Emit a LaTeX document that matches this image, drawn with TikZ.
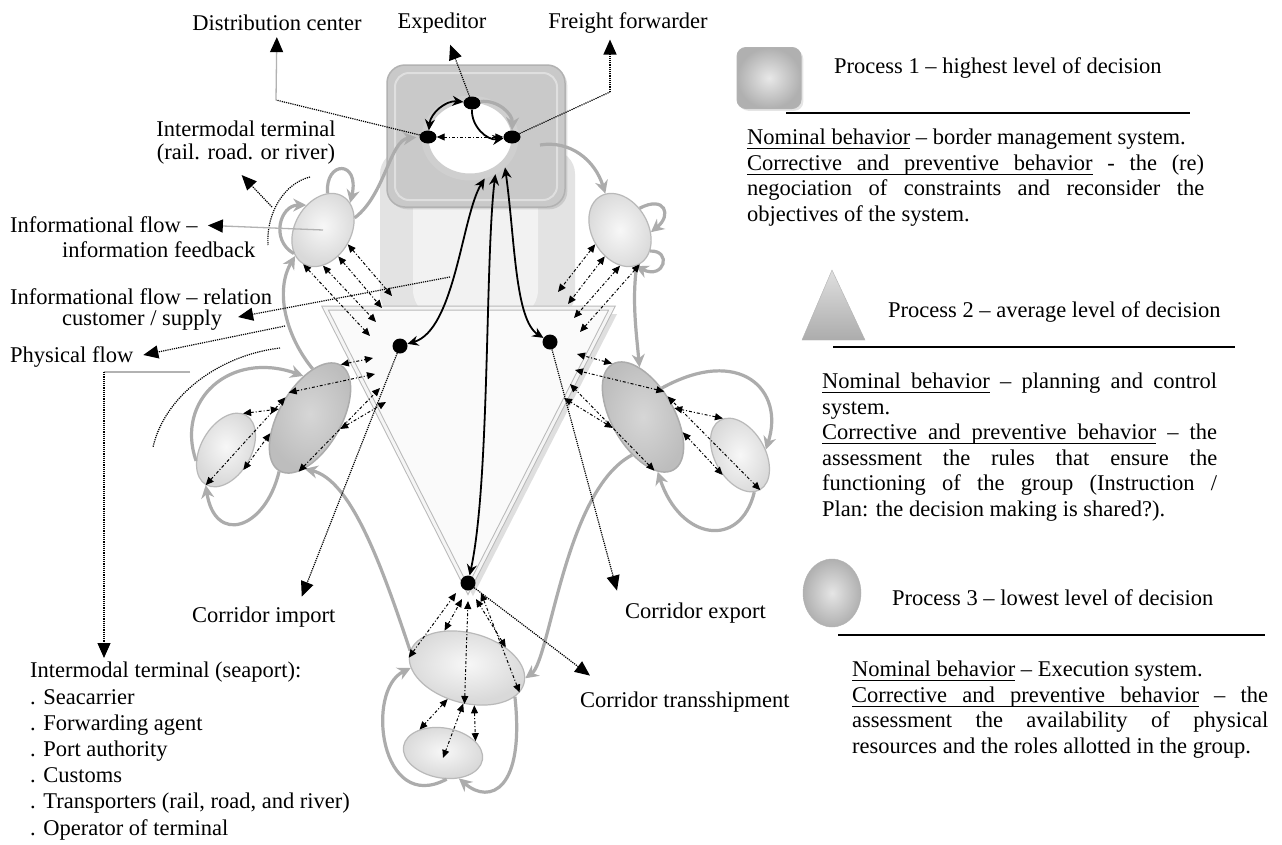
\documentclass[tikz,border=0pt]{standalone}
\usepackage{fontspec}
\setmainfont{Liberation Serif}
\usetikzlibrary{arrows.meta,positioning,shapes.geometric,shadows}
\newcommand\ulw[1]{\leavevmode\setbox0\hbox{#1}\rlap{\vrule height -3.2pt depth 4.3pt width \wd0}\box0\relax}
\newcommand\ulgap{\leaders\vrule height -3.2pt depth 4.3pt\hskip\fontdimen2\font plus\fontdimen3\font minus\fontdimen4\font}

\begin{document}
\begin{tikzpicture}[x=1pt, y=-1pt,
    every node/.style={font=\fontsize{22.5}{25.5}\selectfont},
    lbl/.style={inner sep=0pt, anchor=west},
    para/.style={inner sep=0pt, anchor=north west, align=justify},
    dotn/.style={ellipse, fill=black, inner sep=0pt, minimum width=17pt, minimum height=13pt},
    tdot/.style={circle, fill=black, inner sep=0pt, minimum size=15pt},
    lightell/.style={ellipse, draw=gray!55, line width=1.2pt, inner color=gray!6, outer color=gray!30, inner sep=0pt},
    darkell/.style={ellipse, draw=gray!65, line width=1.5pt, inner color=gray!32, outer color=gray!52, inner sep=0pt},
    grayflow/.style={draw=gray!65, line width=3.2pt, -{Stealth[length=13pt,width=13pt]}},
    blackflow/.style={line width=1.8pt, {Stealth[length=11pt,width=10pt]}-{Stealth[length=11pt,width=10pt]}},
    fan/.style={line width=1pt, dash pattern=on 3pt off 2pt on 1pt off 2pt, {Triangle[length=8pt,width=7pt]}-{Triangle[length=8pt,width=7pt]}},
    dotline/.style={line width=1.2pt, densely dotted},
    lblarrow/.style={dotline, -{Triangle[length=15pt,width=13pt]}},
    thinarrow/.style={draw=gray!60, line width=1.3pt, -{Triangle[length=15pt,width=13pt,color=black]}},
    rule/.style={line width=1.3pt}
  ]
  \fill[white] (0,0) rectangle (1282,844);
  \useasboundingbox (0,0) rectangle (1282,844);

  % process 1 block with the ring
  \fill[gray!22, rounded corners=24pt] (380,150) rectangle (575,318);
  \fill[gray!10, rounded corners=28pt] (413,172) rectangle (538,318);
  \node[draw=gray!60, line width=1.5pt, rounded corners=18pt, fill=gray!42, inner sep=0pt,
    minimum width=178pt, minimum height=142pt, drop shadow={opacity=0.25}] (sq) at (476,136) {};
  \draw[gray!25, line width=2pt, rounded corners=14pt] (395,73) rectangle (557,200);
  \node[ellipse, draw=gray!38, line width=7pt, fill=white, inner sep=0pt,
    minimum width=90pt, minimum height=78pt] (ring) at (470,138) {};

  % process 2 triangle
  \coordinate (triA) at (325,308);
  \coordinate (triB) at (612,308);
  \coordinate (triC) at (468,590);
  \draw[gray!55, line width=1pt, double=gray!8, double distance=3pt, fill=gray!4,
    drop shadow={opacity=0.25, shadow xshift=5pt, shadow yshift=-6pt}] (triA) -- (triB) -- (triC) -- cycle;

  % process 3 ellipses
  \node[lightell, minimum width=56pt, minimum height=78pt, rotate=-30] (lt) at (323,230) {};
  \node[lightell, minimum width=56pt, minimum height=78pt, rotate=30] (rt) at (620,230) {};
  \node[darkell, minimum width=62pt, minimum height=122pt, rotate=-30] (lb) at (310,418) {};
  \node[lightell, minimum width=50pt, minimum height=80pt, rotate=-30] (ls) at (226,450) {};
  \node[darkell, minimum width=62pt, minimum height=122pt, rotate=30] (rb) at (643,417) {};
  \node[lightell, minimum width=50pt, minimum height=80pt, rotate=30] (rs) at (740,455) {};
  \node[lightell, minimum width=118pt, minimum height=70pt, rotate=-15] (bb) at (467,668) {};
  \node[lightell, minimum width=80pt, minimum height=50pt, rotate=-10] (bs) at (443,753) {};

  % decision points
  \node[dotn] (dtop) at (472,103) {};
  \node[dotn] (dlft) at (428,137) {};
  \node[dotn] (drgt) at (512,137) {};
  \node[tdot] (tl) at (400,346) {};
  \node[tdot] (tr) at (550,342) {};
  \node[tdot] (tb) at (468,583) {};

  % physical flows
  \coordinate (sqout) at (540,145);
  \draw[grayflow] (dtop) to[bend left=50] (drgt);
  \draw[grayflow, shorten >=3pt] (lt.51) .. controls (385,195) and (390,140) .. (dlft.west);
  \draw[grayflow] (sqout) .. controls (570,140) and (595,160) .. (rt.82);
  \draw[grayflow] (lt.113) .. controls (325,160) and (360,160) .. (lt.75);
  \draw[grayflow] (lt.-111) .. controls (270,240) and (280,205) .. (lt.154);
  \draw[grayflow] (lb.117) .. controls (285,335) and (275,290) .. (lt.-107);
  \draw[grayflow] (ls.-130) .. controls (175,400) and (230,350) .. (lb.129);
  \draw[grayflow] (lb.-90) .. controls (265,530) and (215,545) .. (ls.-90);
  \draw[grayflow] (bb.178) .. controls (380,560) and (350,480) .. (lb.-66);
  \draw[grayflow] (rt.18) .. controls (665,195) and (672,215) .. (rt.-34);
  \draw[grayflow] (rt.-65) .. controls (672,250) and (665,280) .. (rt.-97);
  \draw[grayflow] (rt.-95) .. controls (632,300) and (636,330) .. (rb.64);
  \draw[grayflow] (rb.27) .. controls (740,345) and (785,390) .. (rs.-18);
  \draw[grayflow] (rs.-99) .. controls (740,550) and (680,540) .. (rb.-105);
  \draw[grayflow] (rb.-136) .. controls (565,490) and (550,660) .. (bb.5);
  \draw[grayflow] (bs.-72) .. controls (380,815) and (365,690) .. (bb.195);
  \draw[grayflow] (bb.-16) .. controls (525,790) and (490,805) .. (bs.-48);

  % informational flows between levels
  \foreach \a/\dx/\dy in {0/-8/-50, -30/-18/-38, -60/-24/-24, -90/-30/-10}
    \draw[fan] (lt.\a) -- ([shift={(\dx,\dy)}]tl.center);
  \foreach \a/\dx/\dy in {-180/8/-50, -150/18/-38, -120/24/-24, -90/30/-10}
    \draw[fan] (rt.\a) -- ([shift={(\dx,\dy)}]tr.center);
  \foreach \a/\dx/\dy in {90/-27/12, 160/-25/28, -72/-20/42, 10/-14/56}
    \draw[fan] (lb.\a) -- ([shift={(\dx,\dy)}]tl.center);
  \foreach \a/\dx/\dy in {90/27/12, 20/25/28, -108/20/42, 170/14/56}
    \draw[fan] (rb.\a) -- ([shift={(\dx,\dy)}]tr.center);
  \foreach \a/\b in {95/194, -19/231, -90/170}
    \draw[fan] (ls.\a) -- (lb.\b);
  \foreach \a/\b in {85/-14, -161/-51, -90/10}
    \draw[fan] (rs.\a) -- (rb.\b);
  \foreach \a/\dx/\dy in {185/-12/10, 136/-6/16, -79/0/18, 43/8/16, -10/13/10}
    \draw[fan] (bb.\a) -- ([shift={(\dx,\dy)}]tb.center);
  \draw[fan] (bb.-107) -- (bs.145);
  \draw[fan] (bb.-81) -- ([yshift=-5pt]bs.center);
  \draw[fan] (bb.-64) -- (bs.30);

  % decisions inside the ring and down to the triangle
  \draw[blackflow] (dtop) to[bend right=45] (dlft);
  \draw[line width=1.8pt, -{Stealth[length=11pt,width=10pt]}] (dtop) to[bend right=50] (drgt);
  \draw[fan] (dlft) -- (drgt);
  \draw[blackflow] (ring.-70) .. controls (462,215) and (455,330) .. (tl);
  \draw[blackflow] (ring.-55) .. controls (485,260) and (490,480) .. (tb);
  \draw[blackflow] (ring.-40) .. controls (515,240) and (515,320) .. (tr);

  % actors
  \node[lbl, anchor=center] (dist) at (277,23) {Distribution center};
  \node[lbl, anchor=center] (exped) at (442,23) {Expeditor};
  \node[lbl, anchor=center] (freight) at (628,23) {Freight forwarder};
  \node[inner sep=0pt, align=center, font=\fontsize{22.5}{23}\selectfont] (interm) at (246,143)
    {Intermodal terminal\\(rail. road. or river)};
  \node[lbl] (fb1) at (10,225) {Informational flow –};
  \node[lbl] (fb2) at (62,250) {information feedback};
  \node[lbl] (rel1) at (10,297) {Informational flow – relation};
  \node[lbl] (rel2) at (62,320) {customer / supply};
  \node[lbl] (phys) at (10,357) {Physical flow};
  \node[inner sep=0pt, anchor=north west, align=left, font=\fontsize{22.5}{26.2}\selectfont] (seaport) at (30,662)
    {Intermodal terminal (seaport):\\. Seacarrier\\. Forwarding agent\\. Port authority\\. Customs\\. Transporters (rail, road, and river)\\. Operator of terminal};
  \node[lbl] (import) at (192,617) {Corridor import};
  \node[lbl] (export) at (625,613) {Corridor export};
  \node[lbl] (trans) at (580,702) {Corridor transshipment};

  \coordinate (distbend) at (276,100);
  \coordinate (frbend) at (610,92);
  \draw[dotline] (dlft) -- (distbend);
  \draw[thinarrow, shorten >=6pt] (distbend) -- (dist);
  \draw[lblarrow, shorten >=12pt] (dtop) -- (exped);
  \draw[dotline] (drgt) -- (frbend);
  \draw[lblarrow, shorten >=6pt] (frbend) -- (frbend |- freight.south);

  \coordinate (imtop) at (310,177);
  \coordinate (imbot) at (268,245);
  \coordinate (immid) at (272,207);
  \draw[dotline] (imtop) .. controls (285,183) and (266,212) .. (imbot);
  \draw[lblarrow, shorten >=14pt] (immid) -- ([xshift=-14pt]interm.south);
  \draw[thinarrow, shorten >=10pt] (lt.center) -- (fb1.east);
  \coordinate (relsrc) at (450,277);
  \draw[lblarrow, shorten >=16pt] (relsrc) -- (rel2.east);
  \coordinate (physsrc) at (285,326);
  \draw[lblarrow, shorten >=10pt] (physsrc) -- (phys.east);

  \coordinate (seaA) at (280,348);
  \coordinate (seaB) at (153,447);
  \coordinate (seaC) at (190,372);
  \coordinate (seaD) at (104,372);
  \draw[dotline] (seaA) .. controls (220,355) and (165,395) .. (seaB);
  \draw[gray!60, line width=1.3pt] (seaC) -- (seaD);
  \draw[lblarrow, shorten >=4pt] (seaD) -- (seaD |- seaport.north);

  \draw[lblarrow] (tl) -- ([xshift=38pt, yshift=10pt]import.north);
  \draw[lblarrow] (tr) -- ([xshift=-8pt, yshift=12pt]export.north west);
  \draw[lblarrow] (tb) -- ([xshift=10pt, yshift=16pt]trans.north west);

  % legend
  \node[draw=gray!60, line width=1pt, rounded corners=9pt, inner sep=0pt, minimum width=64pt, minimum height=61pt,
    inner color=gray!18, outer color=gray!62, drop shadow={opacity=0.2}] (proc1icon) at (769,78) {};
  \node[lbl] (proc1) at (834,68) {Process 1 – highest level of decision};
  \draw[rule] (786,113) -- (1190,113);
  \node[para, text width=457pt] (desc1) at (747,129)
    {\ulw{Nominal}\ulgap\ulw{behavior} – border management system.\par
     \ulw{Corrective}\ulgap\ulw{and}\ulgap\ulw{preventive}\ulgap\ulw{behavior} - the (re)\linebreak
     negociation of constraints and reconsider the\linebreak objectives of the system.};

  \shadedraw[draw=gray!60, top color=gray!25, bottom color=gray!65] (832,270) -- (865,340) -- (802,340) -- cycle;
  \node[lbl] (proc2) at (888,312) {Process 2 – average level of decision};
  \draw[rule] (833,347) -- (1235,347);
  \node[para, text width=395pt] (desc2) at (822,373)
    {\ulw{Nominal}\ulgap\ulw{behavior} – planning and control system.\par
     \ulw{Corrective}\ulgap\ulw{and}\ulgap\ulw{preventive}\ulgap\ulw{behavior} – the\linebreak
     assessment the rules that ensure the\linebreak functioning of the group (Instruction /\linebreak
     Plan: the decision making is shared?).};

  \node[ellipse, draw=gray!60, inner sep=0pt, minimum width=58pt, minimum height=68pt,
    inner color=gray!20, outer color=gray!62] (proc3icon) at (832,593) {};
  \node[lbl] (proc3) at (892,598) {Process 3 – lowest level of decision};
  \draw[rule] (838,635) -- (1265,635);
  \node[para, text width=416pt] (desc3) at (852,661)
    {\ulw{Nominal}\ulgap\ulw{behavior} – Execution system.\par
     \ulw{Corrective}\ulgap\ulw{and}\ulgap\ulw{preventive}\ulgap\ulw{behavior} – the\linebreak
     assessment the availability of physical\linebreak resources and the roles allotted in the group.};
\end{tikzpicture}
\end{document}
